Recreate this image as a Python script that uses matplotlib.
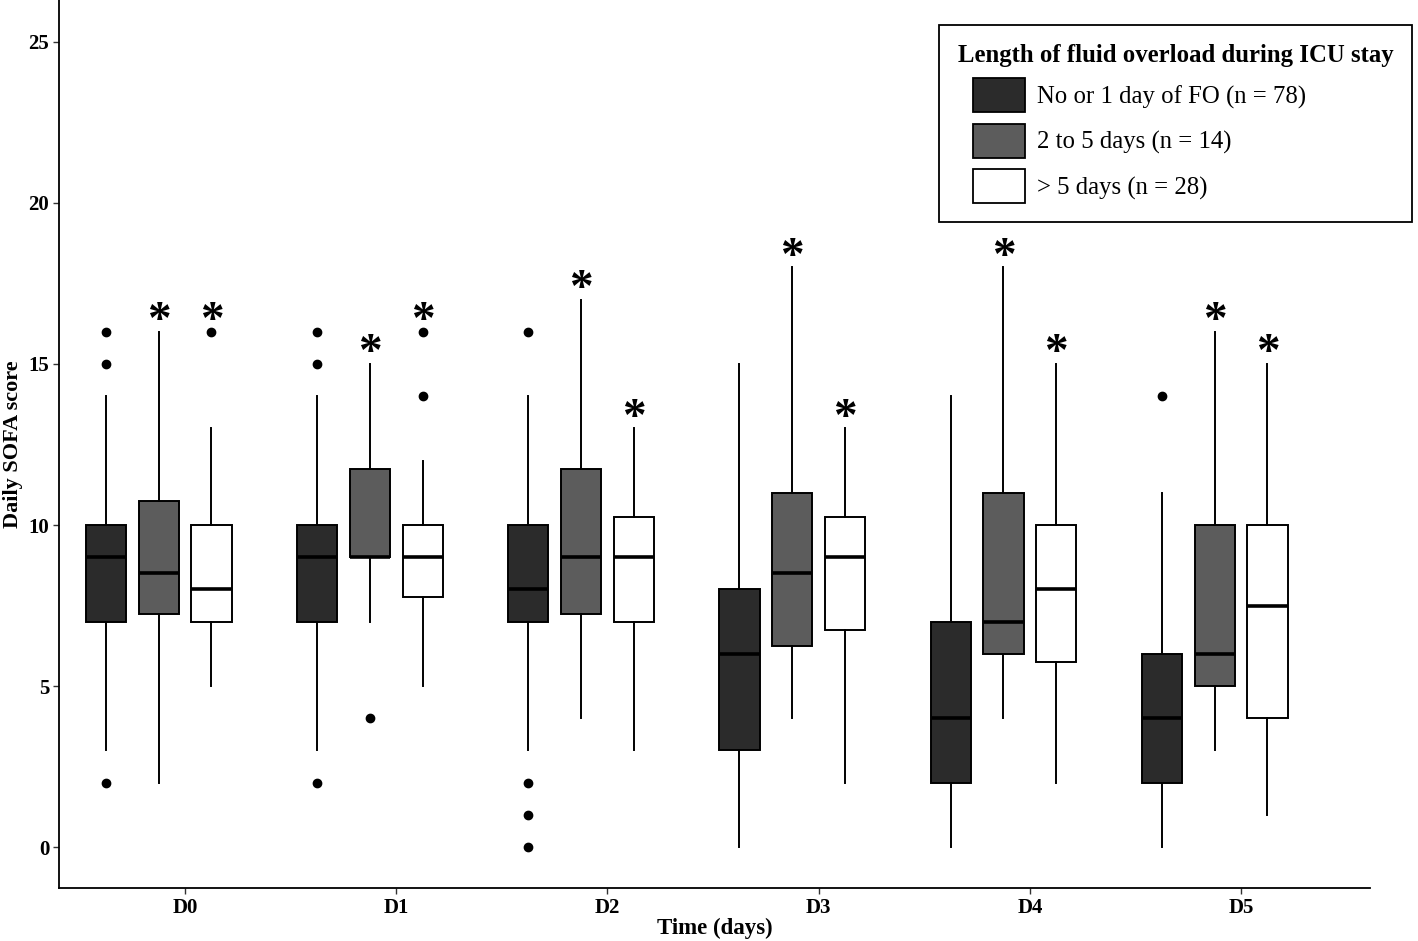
import matplotlib.pyplot as plt
from matplotlib.patches import Patch, Rectangle
from matplotlib.legend_handler import HandlerPatch

plt.rcParams['font.family'] = ['Liberation Serif', 'DejaVu Serif']

# Data
days = ["D0", "D1", "D2", "D3", "D4", "D5"]
groups = ["No or 1 day of FO (n = 78)", "2 to 5 days (n = 14)", "> 5 days (n = 28)"]
colors = ["#2b2b2b", "#5c5c5c", "#ffffff"]

# per group: one value per day
whislo = [[3, 3, 3, 0, 0, 0], [2, 7, 4, 4, 4, 3], [5, 5, 3, 2, 2, 1]]
q1 = [[7, 7, 7, 3, 2, 2], [7.25, 9, 7.25, 6.25, 6, 5], [7, 7.75, 7, 6.75, 5.75, 4]]
med = [[9, 9, 8, 6, 4, 4], [8.5, 9, 9, 8.5, 7, 6], [8, 9, 9, 9, 8, 7.5]]
q3 = [[10, 10, 10, 8, 7, 6], [10.75, 11.75, 11.75, 11, 11, 10], [10, 10, 10.25, 10.25, 10, 10]]
whishi = [[14, 14, 14, 15, 14, 11], [16, 15, 17, 18, 18, 16], [13, 12, 13, 13, 15, 15]]
fliers = [
    [[2, 15, 16], [2, 15, 16], [0, 1, 2, 16], [], [], [14]],
    [[], [4], [], [], [], []],
    [[16], [14, 16], [], [], [], []],
]
stars = [[0, 0, 0, 0, 0, 0], [1, 1, 1, 1, 1, 1], [1, 1, 1, 1, 1, 1]]

fig = plt.figure(figsize=(14.18, 9.41), dpi=100)
ax = fig.add_axes([0.0416, 0.0563, 0.9245, 0.9437])

# boxes are dodged left of the tick, as in the original
offsets = [-0.375, -0.125, 0.125]
for g in range(3):
    stats = []
    for d in range(len(days)):
        stats.append({
            "whislo": whislo[g][d], "q1": q1[g][d], "med": med[g][d],
            "q3": q3[g][d], "whishi": whishi[g][d], "fliers": fliers[g][d],
        })
    pos = [d + offsets[g] for d in range(len(days))]
    ax.bxp(stats, positions=pos, widths=0.19, patch_artist=True, showcaps=False,
           boxprops=dict(facecolor=colors[g], edgecolor="black", linewidth=1.4),
           medianprops=dict(color="black", linewidth=2.6),
           whiskerprops=dict(color="black", linewidth=1.4),
           flierprops=dict(marker="o", markerfacecolor="black", markeredgecolor="black",
                           markersize=6))
    for d in range(len(days)):
        if stars[g][d]:
            top = max([whishi[g][d]] + fliers[g][d])
            ax.text(pos[d], top + 0.3, "*", ha="center", va="center",
                    fontsize=34, fontweight="bold")

ax.set_xlim(-0.597, 5.61)
ax.set_ylim(-1.27, 26.3)
ax.set_xticks(range(len(days)))
ax.set_xticklabels(days)
ax.set_yticks([0, 5, 10, 15, 20, 25])
for lab in ax.get_xticklabels() + ax.get_yticklabels():
    lab.set_fontweight("bold")
    lab.set_fontsize(15)
ax.tick_params(length=4, width=1, color="#333333", pad=3)
ax.set_xlabel("Time (days)", fontsize=16.5, fontweight="bold", labelpad=0)
ax.set_ylabel("Daily SOFA score", fontsize=16, fontweight="bold", labelpad=4)
ax.spines["top"].set_visible(False)
ax.spines["right"].set_visible(False)
ax.spines["left"].set_linewidth(1.3)
ax.spines["bottom"].set_linewidth(1.3)


# legend keys are indented under the title
def indented_key(legend, orig_handle, xdescent, ydescent, width, height, fontsize):
    indent = 10.8
    return Rectangle((-xdescent + indent, -ydescent), width - indent, height)


handles = [Patch(facecolor=c, edgecolor="black", linewidth=1.3) for c in colors]
leg = ax.legend(handles, groups, title="Length of fluid overload during ICU stay",
                loc="upper right", bbox_to_anchor=(1.0415, 0.9858), fontsize=17.8,
                title_fontproperties={"weight": "bold", "size": 17.8},
                handlelength=2.71, handleheight=1.74, fancybox=False, edgecolor="black",
                framealpha=1, borderpad=0.75, labelspacing=0.47, handletextpad=0.5,
                handler_map={Patch: HandlerPatch(patch_func=indented_key)})
leg.get_frame().set_linewidth(1.3)
leg._legend_box.align = "left"

fig.savefig("out.png", dpi=100)
